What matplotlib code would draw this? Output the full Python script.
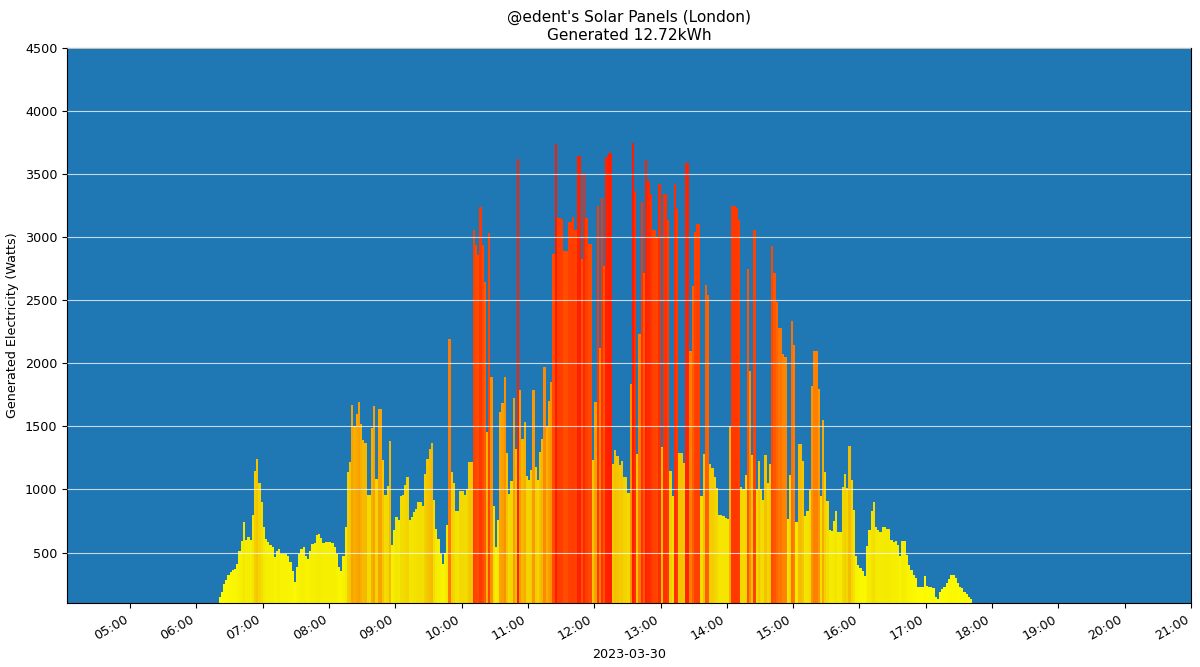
import numpy as np
import pandas as pd
import matplotlib
matplotlib.use("Agg")
import matplotlib.pyplot as plt
import matplotlib.dates as mdates
from matplotlib.colors import LinearSegmentedColormap

day = "2023-03-30"
first_reading = "06:20"
step_minutes = 2

# readings every 2 minutes, one list per hour (Watts)
watts_06 = [150, 190, 254, 285, 320, 344, 360, 373, 410, 510,
            590, 740, 600, 620, 600, 800, 1150, 1245, 1050, 900]
watts_07 = [700, 610, 580, 560, 545, 465, 515, 530, 490, 490,
            485, 470, 425, 357, 265, 385, 490, 530, 540, 475,
            450, 515, 569, 575, 640, 643, 617, 577, 582, 582]
watts_08 = [582, 575, 542, 489, 384, 357, 475, 700, 1137, 1217,
            1667, 1500, 1600, 1693, 1520, 1389, 1370, 960, 960, 1490,
            1660, 1085, 1640, 1640, 1230, 960, 1025, 1384, 560, 675]
watts_09 = [781, 755, 950, 953, 1032, 1098, 760, 781, 821, 848,
            900, 900, 870, 1124, 1244, 1323, 1368, 913, 688, 609,
            490, 410, 500, 715, 2196, 1138, 1050, 833, 833, 985]
watts_10 = [985, 955, 1000, 1220, 1220, 3057, 2938, 2858, 3240, 2938,
            2645, 1455, 3030, 1890, 865, 541, 758, 1615, 1686, 1888,
            1293, 962, 1068, 1725, 1320, 3617, 1786, 1400, 1532, 1108]
watts_11 = [1074, 1156, 1786, 1182, 1077, 1297, 1400, 1970, 1505, 1700,
            1855, 2864, 3738, 3156, 3150, 3148, 2892, 2892, 3122, 3122,
            3160, 3058, 3643, 3643, 2826, 3511, 3153, 2946, 2946, 1230]
watts_12 = [1692, 3247, 2125, 3308, 2773, 3632, 3669, 3669, 1200, 1314,
            1269, 1197, 1229, 1097, 1097, 970, 1840, 3744, 3370, 1281,
            2235, 3281, 2720, 3612, 3443, 3345, 3058, 3058, 3003, 3424]
watts_13 = [1334, 3345, 3345, 3137, 1150, 945, 3418, 3220, 1290, 1290,
            1210, 3585, 3585, 2100, 2612, 3040, 3103, 3103, 945, 1281,
            2625, 2545, 1200, 1174, 1097, 1010, 798, 798, 792, 776]
watts_14 = [763, 1500, 3247, 3247, 3229, 3136, 1020, 1002, 1111, 2751,
            1942, 1271, 3057, 1000, 1225, 1003, 918, 1270, 1053, 1205,
            2929, 2719, 2487, 2278, 2281, 2075, 2049, 766, 1111, 2339]
watts_15 = [2149, 740, 1358, 1358, 1225, 790, 830, 994, 1823, 2098,
            2098, 1800, 950, 1548, 1137, 907, 682, 674, 749, 828,
            661, 661, 1019, 1125, 1013, 1341, 1072, 841, 471, 405]
watts_16 = [379, 352, 313, 550, 682, 828, 900, 700, 679, 660,
            700, 700, 690, 690, 598, 585, 590, 558, 470, 593,
            593, 480, 400, 362, 322, 300, 230, 230, 230, 314]
watts_17 = [236, 230, 230, 217, 150, 135, 190, 209, 225, 262,
            288, 323, 323, 301, 262, 230, 217, 190, 172, 150, 129]

watts = np.array(watts_06 + watts_07 + watts_08 + watts_09 + watts_10 + watts_11
                 + watts_12 + watts_13 + watts_14 + watts_15 + watts_16 + watts_17)
times = pd.date_range(pd.Timestamp(day + " " + first_reading),
                      periods=len(watts), freq=f"{step_minutes}min")

plt.rcParams["font.size"] = 9.2

# yellow for low output, through gold and orange, to red at the peak
solar = LinearSegmentedColormap.from_list("solar", [
    (0.00, "#ffff00"),
    (0.15, "#f4ec00"),
    (0.27, "#f3d400"),
    (0.38, "#f6b000"),
    (0.55, "#ff8000"),
    (0.78, "#ff4800"),
    (1.00, "#ff1a00"),
])
norm = plt.Normalize(100, 3750)
colours = solar(norm(watts))

fig, ax = plt.subplots(figsize=(12, 6.67), dpi=100)
fig.subplots_adjust(left=0.056, right=0.9925, top=0.928, bottom=0.096)
ax.set_facecolor("#1f77b4")

ax.bar(mdates.date2num(times), watts, width=step_minutes / 1440, align="edge",
       color=colours, linewidth=0)

ax.set_xlim(pd.Timestamp(day + " 04:03"), pd.Timestamp(day + " 21:00"))
ax.set_ylim(100, 4500)
ax.xaxis.set_major_locator(mdates.HourLocator())
ax.xaxis.set_major_formatter(mdates.DateFormatter("%H:%M"))
plt.setp(ax.get_xticklabels(), rotation=30, ha="right")

ax.set_axisbelow(False)
ax.yaxis.grid(True, color="white", linewidth=0.8, alpha=0.75)

ax.set_xlabel(day)
ax.set_ylabel("Generated Electricity (Watts)")
ax.set_title("@edent's Solar Panels (London)\nGenerated 12.72kWh")

fig.savefig("out.png")
